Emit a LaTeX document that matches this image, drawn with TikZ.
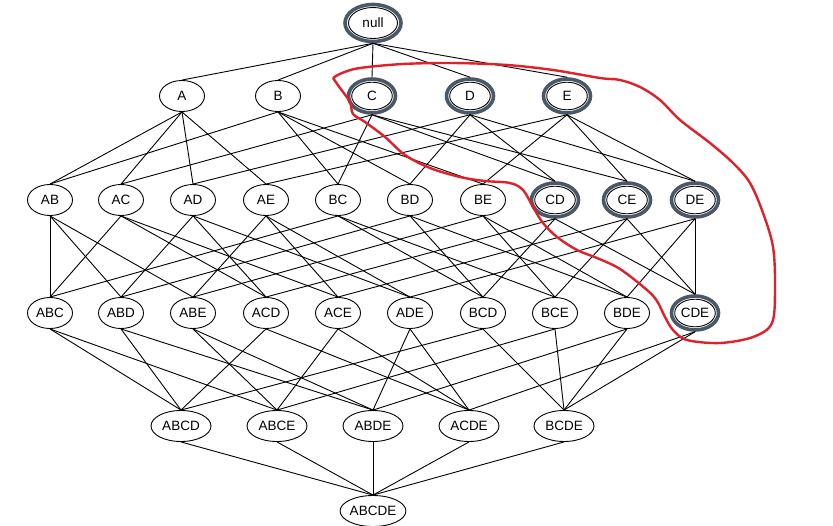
\documentclass[tikz,border=0pt]{standalone}
\usepackage{fontspec}
\setmainfont{Liberation Sans}
\usetikzlibrary{shapes.geometric}
\definecolor{ringcol}{HTML}{4A5868}
\definecolor{lasso}{HTML}{E0202B}
\tikzset{
    item/.style={ellipse, draw, line width=0.9pt, inner sep=0pt,
        minimum width=45, minimum height=31, font=\fontsize{13.5}{16}\selectfont},
    itemw/.style={item, minimum width=60},
    ring/.style={draw=ringcol, line width=3.6pt, fill=white,
        minimum width=47, minimum height=34,
        path picture={\draw[black, line width=0.9pt] (path picture bounding box.center) ellipse (#1);}},
    ring/.default={20.3pt and 13.8pt}
}

\begin{document}
\begin{tikzpicture}[x=1pt, y=-1pt]
    \useasboundingbox (0, 0) rectangle (833, 525);

    \node[item, ring={24.5pt and 15.5pt}, minimum width=56, minimum height=37] (null) at (373, 23) {null};

    \node[item] (A) at (182, 96) {A};
    \node[item] (B) at (278, 96) {B};
    \node[item, ring] (C) at (372, 96) {C};
    \node[item, ring] (D) at (470, 96) {D};
    \node[item, ring] (E) at (567, 96) {E};

    \node[item] (AB) at (50, 200) {AB};
    \node[item] (AC) at (121, 200) {AC};
    \node[item] (AD) at (193, 200) {AD};
    \node[item] (AE) at (266, 200) {AE};
    \node[item] (BC) at (338, 200) {BC};
    \node[item] (BD) at (410, 200) {BD};
    \node[item] (BE) at (483, 200) {BE};
    \node[item, ring] (CD) at (555, 200) {CD};
    \node[item, ring] (CE) at (627, 200) {CE};
    \node[item, ring] (DE) at (695, 200) {DE};

    \node[item] (ABC) at (50, 313) {ABC};
    \node[item] (ABD) at (121, 313) {ABD};
    \node[item] (ABE) at (193, 313) {ABE};
    \node[item] (ACD) at (266, 313) {ACD};
    \node[item] (ACE) at (338, 313) {ACE};
    \node[item] (ADE) at (410, 313) {ADE};
    \node[item] (BCD) at (483, 313) {BCD};
    \node[item] (BCE) at (555, 313) {BCE};
    \node[item] (BDE) at (627, 313) {BDE};
    \node[item, ring] (CDE) at (695, 313) {CDE};

    \node[itemw] (ABCD) at (181, 426) {ABCD};
    \node[itemw] (ABCE) at (277, 426) {ABCE};
    \node[itemw] (ABDE) at (373, 426) {ABDE};
    \node[itemw] (ACDE) at (469, 426) {ACDE};
    \node[itemw] (BCDE) at (564, 426) {BCDE};

    \node[itemw, minimum width=65] (ABCDE) at (373, 511) {ABCDE};

    % each set is joined to the sets one item smaller
    \foreach \c/\ps in {A/null, B/null, C/null, D/null, E/null,
        AB/{A,B}, AC/{A,C}, AD/{A,D}, AE/{A,E}, BC/{B,C},
        BD/{B,D}, BE/{B,E}, CD/{C,D}, CE/{C,E}, DE/{D,E},
        ABC/{AB,AC,BC}, ABD/{AB,AD,BD}, ABE/{AB,AE,BE}, ACD/{AC,AD,CD},
        ACE/{AC,AE,CE}, ADE/{AD,AE,DE}, BCD/{BC,BD,CD}, BCE/{BC,BE,CE},
        BDE/{BD,BE,DE}, CDE/{CD,CE,DE},
        ABCD/{ABC,ABD,ACD,BCD}, ABCE/{ABC,ABE,ACE,BCE}, ABDE/{ABD,ABE,ADE,BDE},
        ACDE/{ACD,ACE,ADE,CDE}, BCDE/{BCD,BCE,BDE,CDE},
        ABCDE/{ABCD,ABCE,ABDE,ACDE,BCDE}}
        \foreach \p in \ps
            \draw[line width=0.9pt] (\p.south) -- (\c.north);

    % hand drawn loop
    \draw[lasso, line width=2.4pt, line join=round] plot[smooth, tension=0.55] coordinates {
        (333,78) (342,73) (360,68) (403,64) (453,63) (507,65) (553,70) (600,78)
        (620,80) (640,87) (660,100) (680,120) (710,143) (733,163) (750,183)
        (763,213) (773,247) (775,287) (772,323) (753,337) (720,343) (687,340)
        (673,330) (665,317) (657,301) (647,290) (620,269) (597,258) (577,250)
        (557,237) (543,223) (533,207) (523,190) (510,183) (485,181) (460,177)
        (430,168) (405,155) (385,137) (365,122) (353,114) (350,102) (340,88) (333,78)};
\end{tikzpicture}
\end{document}
